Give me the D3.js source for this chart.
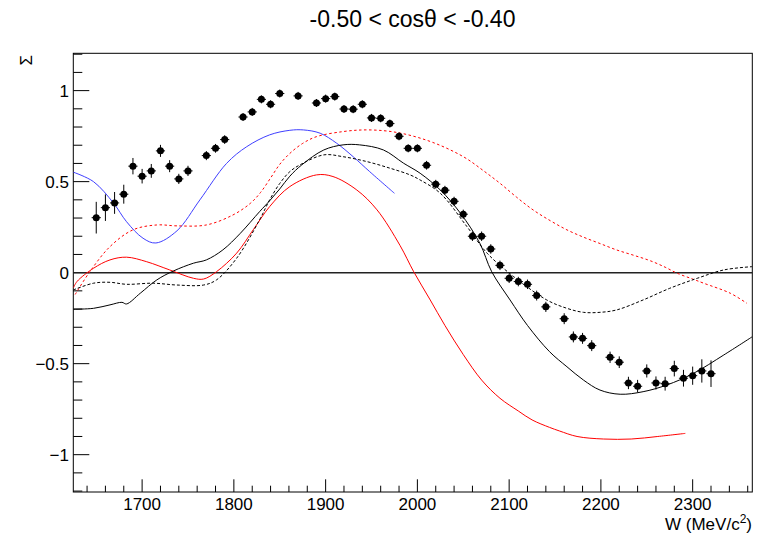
<!DOCTYPE html>
<html>
<head>
<meta charset="utf-8">
<script src="https://cdn.jsdelivr.net/npm/d3@7"></script>
<style>
  html, body { margin: 0; padding: 0; background: #fff; }
  svg { display: block; }
  text { font-family: "Liberation Sans", Arial, Helvetica, sans-serif; fill: #000; }
</style>
</head>
<body>
<svg id="chart" width="767" height="535"></svg>
<script>
// ---------- data ----------
const titleText = "-0.50 < cos\u03b8 < -0.40";
const xTicks = [1700, 1800, 1900, 2000, 2100, 2200, 2300];
const yTicks = [-1, -0.5, 0, 0.5, 1];
const yTickLabels = ["\u22121", "\u22120.5", "0", "0.5", "1"];

const dataW = [1650,1660,1670,1680,1690,1700,1710,1720,1730,1740,1750,1770,1780,1790,1810,1820,1830,1840,1850,1870,1890,1900,1910,1920,1930,1940,1950,1960,1970,1980,1990,2000,2010,2020,2030,2040,2050,2060,2070,2080,2090,2100,2110,2120,2130,2140,2160,2170,2180,2190,2210,2220,2230,2240,2250,2260,2270,2280,2290,2300,2310,2320];
const dataS = [0.302,0.357,0.383,0.431,0.585,0.530,0.559,0.669,0.585,0.515,0.559,0.643,0.683,0.731,0.855,0.883,0.952,0.925,0.984,0.971,0.932,0.956,0.967,0.899,0.898,0.925,0.850,0.848,0.819,0.749,0.683,0.683,0.590,0.486,0.453,0.392,0.321,0.200,0.200,0.130,0.040,-0.031,-0.049,-0.064,-0.126,-0.188,-0.253,-0.353,-0.361,-0.401,-0.465,-0.492,-0.606,-0.624,-0.540,-0.606,-0.610,-0.527,-0.580,-0.566,-0.540,-0.555];
const dataErr = [0.087,0.073,0.060,0.052,0.045,0.040,0.038,0.033,0.033,0.028,0.028,0.025,0.024,0.024,0.022,0.022,0.022,0.022,0.022,0.022,0.022,0.022,0.022,0.022,0.022,0.022,0.022,0.022,0.022,0.022,0.022,0.022,0.024,0.024,0.024,0.025,0.025,0.026,0.026,0.026,0.026,0.026,0.026,0.026,0.027,0.028,0.030,0.030,0.030,0.030,0.031,0.032,0.034,0.035,0.036,0.036,0.038,0.043,0.046,0.050,0.064,0.073];
const dataXErr = 5;

const blueW = [1625,1647,1669,1683,1701,1715,1738,1763,1792,1814,1839,1861,1876,1894,1912,1930,1948,1975];
const blueS = [0.552,0.500,0.381,0.280,0.189,0.163,0.230,0.400,0.600,0.692,0.757,0.782,0.784,0.766,0.711,0.637,0.555,0.436];

const redDotW = [1627,1643,1665,1690,1716,1738,1770,1799,1818,1829,1840,1850,1861,1875,1890,1919,1941,1963,1981,1999,2017,2036,2054,2072,2090,2108,2126,2145,2163,2181,2199,2217,2236,2254,2270,2283,2300,2312,2341,2359];
const redDotS = [-0.120,0.005,0.143,0.235,0.262,0.257,0.262,0.317,0.381,0.440,0.520,0.595,0.655,0.710,0.747,0.775,0.784,0.780,0.767,0.745,0.715,0.674,0.625,0.560,0.491,0.415,0.345,0.285,0.235,0.195,0.160,0.125,0.095,0.065,0.030,-0.003,-0.035,-0.058,-0.113,-0.168];

const redW = [1625,1629,1647,1665,1683,1705,1730,1756,1767,1781,1803,1821,1839,1861,1890,1908,1934,1956,1981,1996,2014,2030,2050,2070,2090,2110,2125,2144,2155,2174,2203,2233,2262,2292];
const redS = [-0.085,-0.049,0.024,0.070,0.085,0.060,0.015,-0.031,-0.035,0.005,0.107,0.235,0.363,0.473,0.537,0.528,0.454,0.345,0.150,0.005,-0.150,-0.290,-0.450,-0.590,-0.690,-0.760,-0.809,-0.850,-0.870,-0.900,-0.914,-0.914,-0.900,-0.883];

const blackW = [1625,1647,1665,1678,1683,1698,1716,1734,1756,1770,1788,1807,1828,1839,1850,1861,1874,1898,1919,1937,1963,1985,2003,2025,2047,2068,2081,2101,2120,2144,2163,2181,2199,2221,2246,2272,2301,2334,2365];
const blackS = [-0.201,-0.196,-0.177,-0.163,-0.172,-0.113,-0.040,0.009,0.052,0.070,0.125,0.216,0.335,0.395,0.460,0.530,0.592,0.674,0.702,0.702,0.674,0.601,0.546,0.454,0.326,0.162,0.005,-0.150,-0.290,-0.434,-0.517,-0.590,-0.645,-0.668,-0.654,-0.617,-0.553,-0.452,-0.352];

const blackDotW = [1625,1647,1665,1683,1712,1738,1767,1781,1803,1828,1839,1850,1861,1872,1898,1919,1945,1970,1992,2003,2025,2054,2076,2105,2141,2163,2181,2199,2217,2246,2275,2305,2334,2365];
const blackDotS = [-0.095,-0.058,-0.053,-0.064,-0.058,-0.068,-0.068,-0.040,0.079,0.290,0.400,0.490,0.555,0.592,0.647,0.637,0.610,0.574,0.537,0.509,0.436,0.253,0.107,-0.022,-0.150,-0.196,-0.218,-0.218,-0.205,-0.150,-0.086,-0.031,0.015,0.033];

// ---------- layout ----------
const svg = d3.select("#chart");
const L = 73.3, R = 752.3, T = 53.3, B = 492;
const x = d3.scaleLinear().domain([1625, 2365]).range([L, R]);
const y = d3.scaleLinear().domain([-1.205, 1.205]).range([B, T]);

const clipId = "plotclip";
svg.append("defs").append("clipPath").attr("id", clipId)
  .append("rect").attr("x", L).attr("y", T).attr("width", R - L).attr("height", B - T);

// frame
svg.append("rect").attr("x", L).attr("y", T).attr("width", R - L).attr("height", B - T)
  .attr("fill", "none").attr("stroke", "#000").attr("stroke-width", 1);

// x ticks
const xMinor = d3.range(1640, 2366, 20);
svg.append("g").selectAll("line").data(xMinor).join("line")
  .attr("x1", d => x(d)).attr("x2", d => x(d))
  .attr("y1", B).attr("y2", d => (d % 100 === 0) ? B - 12.7 : B - 6.3)
  .attr("stroke", "#000").attr("stroke-width", 1);
svg.append("g").selectAll("text").data(xTicks).join("text")
  .attr("x", d => x(d)).attr("y", 509.5)
  .attr("text-anchor", "middle").attr("font-size", 17)
  .text(d => d);

// y ticks
const yMinor = d3.range(-12, 13).map(i => i / 10);
svg.append("g").selectAll("line").data(yMinor).join("line")
  .attr("x1", L).attr("x2", (d, i) => ((i - 12) % 5 === 0) ? L + 16 : L + 9)
  .attr("y1", d => y(d)).attr("y2", d => y(d))
  .attr("stroke", "#000").attr("stroke-width", 1);
svg.append("g").selectAll("text").data(yTicks).join("text")
  .attr("x", 69).attr("y", d => y(d) + 6)
  .attr("text-anchor", "end").attr("font-size", 17)
  .text((d, i) => yTickLabels[i]);

// titles
svg.append("text").attr("x", 412.5).attr("y", 27).attr("text-anchor", "middle")
  .attr("font-size", 23).text(titleText);
const xt = svg.append("text").attr("x", 752).attr("y", 530).attr("text-anchor", "end").attr("font-size", 17);
xt.append("tspan").text("W (MeV/c");
xt.append("tspan").attr("font-size", 12).attr("dy", -7).text("2");
xt.append("tspan").attr("dy", 7).text(")");
svg.append("text").attr("transform", "translate(32,55) rotate(-90)")
  .attr("text-anchor", "end").attr("font-size", 17).text("\u03a3");

// zero line
svg.append("line").attr("x1", L).attr("x2", R).attr("y1", y(0)).attr("y2", y(0))
  .attr("stroke", "#222").attr("stroke-width", 1.5);

// curves
const plot = svg.append("g").attr("clip-path", `url(#${clipId})`);
const line = d3.line().x(d => x(d[0])).y(d => y(d[1])).curve(d3.curveCatmullRom.alpha(0.5));
function curve(ws, ss, color, dash) {
  plot.append("path").datum(ws.map((w, i) => [w, ss[i]]))
    .attr("d", line).attr("fill", "none").attr("stroke", color)
    .attr("stroke-width", 1).attr("stroke-dasharray", dash || null);
}
curve(blueW, blueS, "#3f3fff");
curve(redDotW, redDotS, "#ff0000", "2.5,2.5");
curve(redW, redS, "#ff0000");
curve(blackDotW, blackDotS, "#000", "3,2");
curve(blackW, blackS, "#000");

// data points
const pts = dataW.map((w, i) => ({ w, s: dataS[i], e: dataErr[i] }));
const pg = plot.append("g");
pg.selectAll("line.ey").data(pts).join("line").attr("class", "ey")
  .attr("x1", d => x(d.w)).attr("x2", d => x(d.w))
  .attr("y1", d => y(d.s - d.e)).attr("y2", d => y(d.s + d.e))
  .attr("stroke", "#000").attr("stroke-width", 1);
pg.selectAll("line.ex").data(pts).join("line").attr("class", "ex")
  .attr("x1", d => x(d.w - dataXErr)).attr("x2", d => x(d.w + dataXErr))
  .attr("y1", d => y(d.s)).attr("y2", d => y(d.s))
  .attr("stroke", "#000").attr("stroke-width", 1);
pg.selectAll("circle").data(pts).join("circle")
  .attr("cx", d => x(d.w)).attr("cy", d => y(d.s)).attr("r", 3.5)
  .attr("fill", "#000");
</script>
</body>
</html>
